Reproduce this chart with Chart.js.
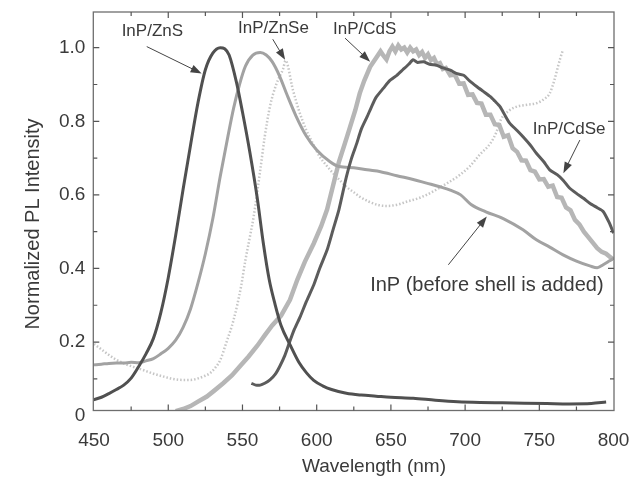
<!DOCTYPE html>
<html>
<head>
<meta charset="utf-8">
<script src="https://cdn.jsdelivr.net/npm/chart.js@4/dist/chart.umd.min.js"></script>
<style>
  html, body { margin: 0; padding: 0; background: #fff; }
  #c { display: block; }
</style>
</head>
<body>
<canvas id="c" width="639" height="485"></canvas>
<script>
// Normalized photoluminescence spectra of InP cores and core/shell particles.

// InP/ZnS
const znsWl  = [449.5, 455, 460, 465, 470, 475, 480, 485, 490, 495, 500, 505, 510, 515, 520, 525, 530, 535, 538, 541, 546, 550, 555, 560, 564, 568, 572, 576, 582, 588, 593, 598, 604, 610, 620, 630, 640, 650, 665, 680, 695, 710, 725, 740, 755, 770, 785, 795];
const znsInt = [0.043, 0.05, 0.06, 0.071, 0.083, 0.102, 0.133, 0.168, 0.21, 0.28, 0.375, 0.49, 0.615, 0.735, 0.85, 0.94, 0.985, 1.0, 0.997, 0.98, 0.905, 0.825, 0.715, 0.59, 0.47, 0.37, 0.302, 0.245, 0.193, 0.145, 0.117, 0.096, 0.081, 0.071, 0.061, 0.056, 0.053, 0.05, 0.047, 0.042, 0.038, 0.036, 0.035, 0.034, 0.033, 0.032, 0.033, 0.037];

// InP core before the shell is grown
const inpWl  = [449.5, 455, 460, 465, 470, 475, 480, 485, 490, 495, 500, 505, 510, 515, 520, 525, 530, 535, 540, 544, 548, 552, 557, 562, 566, 570, 575, 580, 586, 593, 600, 609, 615, 625, 634, 643, 654, 665, 674, 683, 690, 697, 704, 714, 726, 739, 748, 757, 766, 775, 784, 789, 793, 797, 800];
const inpInt = [0.138, 0.14, 0.142, 0.143, 0.143, 0.145, 0.144, 0.149, 0.155, 0.168, 0.183, 0.205, 0.24, 0.29, 0.36, 0.44, 0.535, 0.65, 0.755, 0.835, 0.9, 0.95, 0.98, 0.987, 0.98, 0.962, 0.923, 0.872, 0.815, 0.76, 0.722, 0.69, 0.677, 0.674, 0.668, 0.663, 0.652, 0.642, 0.632, 0.622, 0.613, 0.6, 0.574, 0.554, 0.535, 0.505, 0.478, 0.458, 0.437, 0.42, 0.407, 0.402, 0.41, 0.42, 0.428];

// InP/ZnSe
const znseWl  = [450, 455, 460, 465, 470, 477, 483, 490, 497, 503, 510, 515, 519, 524, 528, 532, 535, 539, 544, 549, 552, 555, 557.5, 562, 565, 568.5, 573, 577.5, 579, 584, 588, 593, 598, 602, 607, 611, 616, 620, 625, 629, 635, 642, 648, 655, 661, 668, 674, 681, 688, 695, 703, 710, 717, 721, 724, 730, 735, 742, 748, 753, 757, 760, 762, 764, 766];
const znseInt = [0.195, 0.18, 0.165, 0.152, 0.142, 0.132, 0.124, 0.114, 0.106, 0.1, 0.097, 0.097, 0.1, 0.107, 0.115, 0.132, 0.151, 0.197, 0.26, 0.35, 0.423, 0.486, 0.54, 0.668, 0.758, 0.84, 0.903, 0.944, 0.965, 0.885, 0.83, 0.776, 0.735, 0.704, 0.678, 0.659, 0.638, 0.622, 0.607, 0.595, 0.582, 0.572, 0.57, 0.574, 0.582, 0.59, 0.6, 0.615, 0.632, 0.65, 0.677, 0.71, 0.74, 0.77, 0.804, 0.83, 0.84, 0.845, 0.849, 0.86, 0.876, 0.91, 0.94, 0.97, 0.995];

// InP/CdS (noisy trace)
const cdsWl  = [505, 510, 515, 520, 526, 531, 537, 543, 548, 554, 560, 565, 570, 576, 582, 587, 592, 598, 603, 607, 611, 615, 619, 622.5, 626, 629, 632, 636, 640, 643, 645, 647, 649, 651, 653, 655, 657, 659, 661, 663, 665, 667, 669, 671, 673, 675, 677, 679, 681, 683, 685, 687, 690, 693, 696, 699, 702, 705, 708, 711, 714, 717, 720, 723, 726, 729, 732, 735, 738, 741, 744, 747, 750, 753, 756, 759, 762, 765, 768, 771, 774, 777, 780, 783, 786, 789, 792, 795, 798, 800];
const cdsInt = [0.012, 0.018, 0.026, 0.038, 0.052, 0.068, 0.088, 0.11, 0.133, 0.16, 0.19, 0.218, 0.245, 0.272, 0.315, 0.37, 0.418, 0.468, 0.515, 0.56, 0.625, 0.69, 0.74, 0.785, 0.83, 0.876, 0.91, 0.948, 0.972, 0.99, 0.978, 0.968, 0.99, 1.003, 0.99, 1.006, 0.995, 1.0, 0.987, 1.0, 0.99, 0.995, 0.98, 0.988, 0.972, 0.982, 0.966, 0.972, 0.955, 0.958, 0.942, 0.945, 0.925, 0.927, 0.902, 0.903, 0.872, 0.873, 0.85, 0.848, 0.818, 0.818, 0.792, 0.79, 0.758, 0.762, 0.727, 0.717, 0.694, 0.693, 0.667, 0.663, 0.642, 0.643, 0.622, 0.625, 0.594, 0.592, 0.566, 0.558, 0.532, 0.52, 0.5, 0.485, 0.47, 0.455, 0.445, 0.44, 0.43, 0.425];

// InP/CdSe
const cdseWl  = [556, 559, 562, 565, 568.5, 572, 575, 578.5, 582, 585, 589, 593, 598, 602, 607, 611, 615, 620, 623.5, 627, 630, 634, 637, 640, 645, 649, 654, 658, 662, 665, 668, 672, 676, 681, 685, 690, 694, 699, 703, 708, 712, 717, 720, 723.5, 727, 730, 735, 739, 744, 748, 753, 757, 762, 766, 770, 775, 780, 784, 789, 793, 797, 800];
const cdseInt = [0.088, 0.083, 0.083, 0.088, 0.097, 0.112, 0.133, 0.163, 0.203, 0.235, 0.27, 0.31, 0.355, 0.4, 0.45, 0.505, 0.56, 0.649, 0.7, 0.74, 0.778, 0.8125, 0.84, 0.865, 0.89, 0.91, 0.925, 0.94, 0.955, 0.967, 0.96, 0.962, 0.955, 0.952, 0.945, 0.939, 0.93, 0.925, 0.91, 0.894, 0.882, 0.867, 0.855, 0.84, 0.815, 0.795, 0.775, 0.758, 0.735, 0.713, 0.69, 0.668, 0.655, 0.64, 0.62, 0.604, 0.59, 0.577, 0.565, 0.555, 0.525, 0.496];

// Axis ticks
const xTicks = [450, 500, 550, 600, 650, 700, 750, 800];
const xMinorTicks = [475, 500, 525, 550, 575, 600, 625, 650, 675, 700, 725, 750, 775];
const yTicks = [0, 0.2, 0.4, 0.6, 0.8, 1.0];
const yMinorTicks = [0.1, 0.2, 0.3, 0.4, 0.5, 0.6, 0.7, 0.8, 0.9, 1.0];

const FONT = "'Liberation Sans', Arial, Helvetica, sans-serif";
const INK = '#3a3a3a';

// Callout text and arrows, anchored in data units (wavelength, intensity)
const callouts = [
  { text: 'InP/ZnS',  at: [468.6, 1.044], size: 17, from: [485.5, 1.003], to: [522.5, 0.930] },
  { text: 'InP/ZnSe', at: [547.0, 1.054], size: 17, from: [570.4, 1.023], to: [578.7, 0.967] },
  { text: 'InP/CdS',  at: [611.0, 1.051], size: 17, from: [619.1, 1.026], to: [636.0, 0.962] },
  { text: 'InP/CdSe', at: [745.6, 0.777], size: 17, from: [777.3, 0.749], to: [766.2, 0.659] },
  { text: 'InP (before shell is added)', at: [636.0, 0.355], size: 20, from: [688.7, 0.410], to: [714.6, 0.541] }
];

function pts(xs, ys) { return xs.map((v, i) => ({ x: v, y: ys[i] })); }

const frameAndNotes = {
  id: 'frameAndNotes',
  afterDraw(chart) {
    const { ctx, chartArea: a, scales: { x, y } } = chart;
    ctx.save();
    // plot frame
    ctx.strokeStyle = '#6e6e6e';
    ctx.lineWidth = 1.3;
    ctx.strokeRect(a.left, a.top, a.right - a.left, a.bottom - a.top);
    // inward tick marks on all four sides
    ctx.lineWidth = 1.2;
    ctx.strokeStyle = '#555';
    ctx.beginPath();
    xMinorTicks.forEach(v => {
      const px = x.getPixelForValue(v);
      const len = xTicks.includes(v) ? 6 : 4;
      ctx.moveTo(px, a.bottom); ctx.lineTo(px, a.bottom - len);
      ctx.moveTo(px, a.top); ctx.lineTo(px, a.top + len);
    });
    yMinorTicks.forEach(v => {
      const py = y.getPixelForValue(v);
      const len = Math.abs(v * 5 - Math.round(v * 5)) < 1e-6 ? 6 : 4;
      ctx.moveTo(a.left, py); ctx.lineTo(a.left + len, py);
      ctx.moveTo(a.right, py); ctx.lineTo(a.right - len, py);
    });
    ctx.stroke();

    // axis titles
    ctx.fillStyle = INK;
    ctx.textAlign = 'center';
    ctx.textBaseline = 'middle';
    ctx.font = '19px ' + FONT;
    ctx.fillText('Wavelength (nm)', 374, 467);
    ctx.save();
    ctx.translate(33, 224);
    ctx.rotate(-Math.PI / 2);
    ctx.font = '20px ' + FONT;
    ctx.fillText('Normalized PL Intensity', 0, 0);
    ctx.restore();

    // callouts
    callouts.forEach(c => {
      ctx.font = c.size + 'px ' + FONT;
      ctx.textAlign = 'left';
      ctx.textBaseline = 'middle';
      ctx.fillStyle = INK;
      ctx.fillText(c.text, x.getPixelForValue(c.at[0]), y.getPixelForValue(c.at[1]));
      const x0 = x.getPixelForValue(c.from[0]), y0 = y.getPixelForValue(c.from[1]);
      const x1 = x.getPixelForValue(c.to[0]), y1 = y.getPixelForValue(c.to[1]);
      const ang = Math.atan2(y1 - y0, x1 - x0);
      const head = 11, half = 4;
      ctx.strokeStyle = '#444';
      ctx.lineWidth = 1;
      ctx.beginPath();
      ctx.moveTo(x0, y0);
      ctx.lineTo(x1 - Math.cos(ang) * head * 0.8, y1 - Math.sin(ang) * head * 0.8);
      ctx.stroke();
      ctx.fillStyle = '#444';
      ctx.beginPath();
      ctx.moveTo(x1, y1);
      ctx.lineTo(x1 - Math.cos(ang) * head - Math.sin(ang) * half, y1 - Math.sin(ang) * head + Math.cos(ang) * half);
      ctx.lineTo(x1 - Math.cos(ang) * head + Math.sin(ang) * half, y1 - Math.sin(ang) * head - Math.cos(ang) * half);
      ctx.closePath();
      ctx.fill();
    });
    ctx.restore();
  }
};

new Chart(document.getElementById('c'), {
  type: 'line',
  data: {
    datasets: [
      { label: 'InP/ZnS', data: pts(znsWl, znsInt), borderColor: '#505050', borderWidth: 3, cubicInterpolationMode: 'monotone' },
      { label: 'InP/CdSe', data: pts(cdseWl, cdseInt), borderColor: '#5c5c5c', borderWidth: 3, tension: 0.2 },
      { label: 'InP', data: pts(inpWl, inpInt), borderColor: '#a2a2a2', borderWidth: 3, cubicInterpolationMode: 'monotone' },
      { label: 'InP/CdS', data: pts(cdsWl, cdsInt), borderColor: '#b6b6b6', borderWidth: 4.5, tension: 0 },
      { label: 'InP/ZnSe', data: pts(znseWl, znseInt), borderColor: '#c6c6c6', borderWidth: 2.5, borderDash: [1.5, 2], cubicInterpolationMode: 'monotone' }
    ]
  },
  options: {
    responsive: false,
    animation: false,
    devicePixelRatio: 1,
    layout: { padding: { top: 12, right: 25, left: 0, bottom: 0 } },
    elements: { point: { radius: 0 } },
    plugins: { legend: { display: false }, tooltip: { enabled: false } },
    scales: {
      x: {
        type: 'linear',
        min: 449.5,
        max: 800.3,
        grid: { display: false, drawTicks: false },
        border: { display: false },
        afterBuildTicks: s => { s.ticks = xTicks.map(v => ({ value: v })); },
        afterFit: s => { s.height = 485 - 410.5; s.paddingLeft = 0; s.paddingRight = 0; },
        ticks: { font: { family: FONT, size: 19 }, color: INK, padding: 19, autoSkip: false, maxRotation: 0 }
      },
      y: {
        type: 'linear',
        min: 0.014,
        max: 1.097,
        grid: { display: false, drawTicks: false },
        border: { display: false },
        afterBuildTicks: s => { s.ticks = yTicks.map(v => ({ value: v })); },
        afterFit: s => { s.width = 93.3; s.paddingTop = 0; s.paddingBottom = 0; },
        ticks: {
          font: { family: FONT, size: 19 }, color: INK, padding: 8, autoSkip: false,
          callback: v => (v === 0 ? '0' : v.toFixed(1))
        }
      }
    }
  },
  plugins: [frameAndNotes]
});
</script>
</body>
</html>
